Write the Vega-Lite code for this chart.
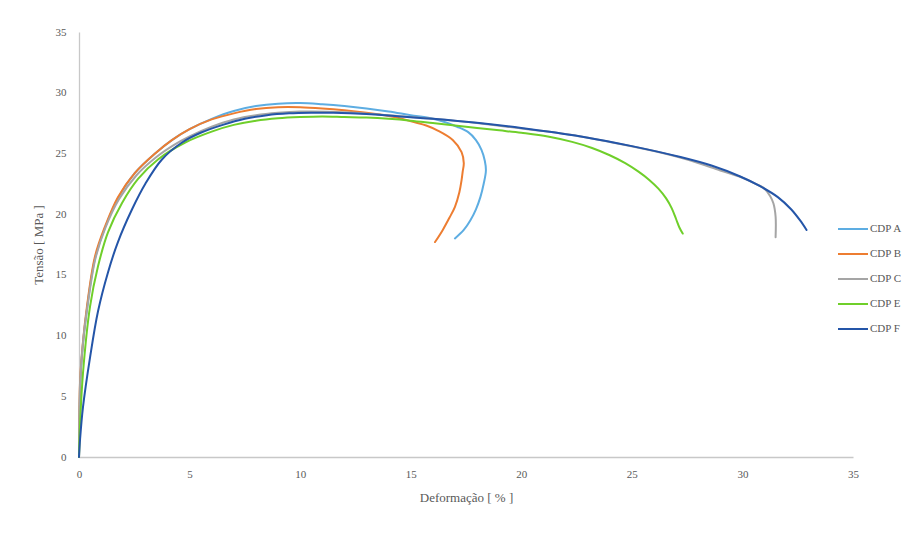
{
  "$schema": "https://vega.github.io/schema/vega-lite/v6.json",
  "width": 774,
  "height": 425,
  "autosize": {"type": "none"},
  "padding": {"left": 79, "top": 32, "right": 62, "bottom": 82},
  "background": "white",
  "config": {
    "view": {"stroke": null},
    "font": "Liberation Serif"
  },
  "datasets": {
    "pts": [
      {"s":"CDP A","i":0,"x":0,"y":0},{"s":"CDP A","i":1,"x":0.03,"y":4},{"s":"CDP A","i":2,"x":0.12,"y":8},{"s":"CDP A","i":3,"x":0.36,"y":12.2},{"s":"CDP A","i":4,"x":0.72,"y":16.3},{"s":"CDP A","i":5,"x":1.18,"y":18.9},{"s":"CDP A","i":6,"x":1.76,"y":21.3},{"s":"CDP A","i":7,"x":2.53,"y":23.4},{"s":"CDP A","i":8,"x":3.44,"y":25.0},{"s":"CDP A","i":9,"x":4.2,"y":26.1},{"s":"CDP A","i":10,"x":5,"y":27.0},{"s":"CDP A","i":11,"x":6,"y":27.85},{"s":"CDP A","i":12,"x":7,"y":28.5},{"s":"CDP A","i":13,"x":8,"y":28.9},{"s":"CDP A","i":14,"x":9,"y":29.1},{"s":"CDP A","i":15,"x":10,"y":29.15},{"s":"CDP A","i":16,"x":11,"y":29.05},{"s":"CDP A","i":17,"x":12,"y":28.9},{"s":"CDP A","i":18,"x":13,"y":28.7},{"s":"CDP A","i":19,"x":14,"y":28.45},{"s":"CDP A","i":20,"x":15,"y":28.15},{"s":"CDP A","i":21,"x":15.9,"y":27.9},{"s":"CDP A","i":22,"x":16.6,"y":27.55},{"s":"CDP A","i":23,"x":17.1,"y":27.2},{"s":"CDP A","i":24,"x":17.6,"y":26.75},{"s":"CDP A","i":25,"x":17.95,"y":26.1},{"s":"CDP A","i":26,"x":18.2,"y":25.3},{"s":"CDP A","i":27,"x":18.35,"y":24.4},{"s":"CDP A","i":28,"x":18.4,"y":23.6},{"s":"CDP A","i":29,"x":18.3,"y":22.5},{"s":"CDP A","i":30,"x":18.15,"y":21.4},{"s":"CDP A","i":31,"x":17.95,"y":20.4},{"s":"CDP A","i":32,"x":17.7,"y":19.5},{"s":"CDP A","i":33,"x":17.4,"y":18.7},{"s":"CDP A","i":34,"x":17.0,"y":18.0},

      {"s":"CDP B","i":0,"x":0,"y":0},{"s":"CDP B","i":1,"x":0.02,"y":4},{"s":"CDP B","i":2,"x":0.05,"y":6.3},{"s":"CDP B","i":3,"x":0.18,"y":9.5},{"s":"CDP B","i":4,"x":0.36,"y":12.4},{"s":"CDP B","i":5,"x":0.72,"y":16.5},{"s":"CDP B","i":6,"x":1.18,"y":19.0},{"s":"CDP B","i":7,"x":1.76,"y":21.4},{"s":"CDP B","i":8,"x":2.53,"y":23.4},{"s":"CDP B","i":9,"x":3.44,"y":25.0},{"s":"CDP B","i":10,"x":4.2,"y":26.1},{"s":"CDP B","i":11,"x":5,"y":27.0},{"s":"CDP B","i":12,"x":6,"y":27.8},{"s":"CDP B","i":13,"x":7,"y":28.3},{"s":"CDP B","i":14,"x":8,"y":28.65},{"s":"CDP B","i":15,"x":9,"y":28.8},{"s":"CDP B","i":16,"x":10,"y":28.8},{"s":"CDP B","i":17,"x":11,"y":28.7},{"s":"CDP B","i":18,"x":12,"y":28.55},{"s":"CDP B","i":19,"x":13,"y":28.35},{"s":"CDP B","i":20,"x":13.6,"y":28.2},{"s":"CDP B","i":21,"x":14.5,"y":27.9},{"s":"CDP B","i":22,"x":15.1,"y":27.6},{"s":"CDP B","i":23,"x":15.7,"y":27.3},{"s":"CDP B","i":24,"x":16.2,"y":26.9},{"s":"CDP B","i":25,"x":16.9,"y":26.1},{"s":"CDP B","i":26,"x":17.3,"y":25.1},{"s":"CDP B","i":27,"x":17.4,"y":24.2},{"s":"CDP B","i":28,"x":17.35,"y":23.5},{"s":"CDP B","i":29,"x":17.3,"y":22.8},{"s":"CDP B","i":30,"x":17.2,"y":21.8},{"s":"CDP B","i":31,"x":17.0,"y":20.6},{"s":"CDP B","i":32,"x":16.75,"y":19.7},{"s":"CDP B","i":33,"x":16.45,"y":18.7},{"s":"CDP B","i":34,"x":16.1,"y":17.7},

      {"s":"CDP C","i":0,"x":0,"y":0},{"s":"CDP C","i":1,"x":0.02,"y":4},{"s":"CDP C","i":2,"x":0.06,"y":6.5},{"s":"CDP C","i":3,"x":0.2,"y":9.8},{"s":"CDP C","i":4,"x":0.4,"y":12.6},{"s":"CDP C","i":5,"x":0.75,"y":16.4},{"s":"CDP C","i":6,"x":1.2,"y":18.9},{"s":"CDP C","i":7,"x":1.8,"y":21.2},{"s":"CDP C","i":8,"x":2.6,"y":23.2},{"s":"CDP C","i":9,"x":3.5,"y":24.7},{"s":"CDP C","i":10,"x":4.3,"y":25.7},{"s":"CDP C","i":11,"x":5,"y":26.4},{"s":"CDP C","i":12,"x":6,"y":27.2},{"s":"CDP C","i":13,"x":7,"y":27.8},{"s":"CDP C","i":14,"x":8,"y":28.15},{"s":"CDP C","i":15,"x":9,"y":28.35},{"s":"CDP C","i":16,"x":10,"y":28.45},{"s":"CDP C","i":17,"x":12,"y":28.4},{"s":"CDP C","i":18,"x":14,"y":28.15},{"s":"CDP C","i":19,"x":16,"y":27.85},{"s":"CDP C","i":20,"x":18,"y":27.5},{"s":"CDP C","i":21,"x":20,"y":27.05},{"s":"CDP C","i":22,"x":22,"y":26.6},{"s":"CDP C","i":23,"x":24,"y":25.95},{"s":"CDP C","i":24,"x":26,"y":25.2},{"s":"CDP C","i":25,"x":27.5,"y":24.5},{"s":"CDP C","i":26,"x":29,"y":23.6},{"s":"CDP C","i":27,"x":30.0,"y":23.0},{"s":"CDP C","i":28,"x":30.6,"y":22.5},{"s":"CDP C","i":29,"x":31.0,"y":22.1},{"s":"CDP C","i":30,"x":31.25,"y":21.5},{"s":"CDP C","i":31,"x":31.4,"y":20.9},{"s":"CDP C","i":32,"x":31.5,"y":19.8},{"s":"CDP C","i":33,"x":31.5,"y":18.1},

      {"s":"CDP E","i":0,"x":0,"y":0},{"s":"CDP E","i":1,"x":0.05,"y":2.8},{"s":"CDP E","i":2,"x":0.18,"y":6.9},{"s":"CDP E","i":3,"x":0.5,"y":12.4},{"s":"CDP E","i":4,"x":0.86,"y":15.7},{"s":"CDP E","i":5,"x":1.31,"y":18.5},{"s":"CDP E","i":6,"x":1.94,"y":20.9},{"s":"CDP E","i":7,"x":2.67,"y":22.9},{"s":"CDP E","i":8,"x":3.57,"y":24.5},{"s":"CDP E","i":9,"x":4.8,"y":25.9},{"s":"CDP E","i":10,"x":6,"y":26.8},{"s":"CDP E","i":11,"x":7,"y":27.35},{"s":"CDP E","i":12,"x":8,"y":27.7},{"s":"CDP E","i":13,"x":9,"y":27.9},{"s":"CDP E","i":14,"x":10,"y":28.0},{"s":"CDP E","i":15,"x":11,"y":28.05},{"s":"CDP E","i":16,"x":12,"y":28.0},{"s":"CDP E","i":17,"x":13,"y":27.95},{"s":"CDP E","i":18,"x":14,"y":27.85},{"s":"CDP E","i":19,"x":15,"y":27.7},{"s":"CDP E","i":20,"x":16,"y":27.5},{"s":"CDP E","i":21,"x":17,"y":27.3},{"s":"CDP E","i":22,"x":18,"y":27.1},{"s":"CDP E","i":23,"x":19,"y":26.9},{"s":"CDP E","i":24,"x":20,"y":26.7},{"s":"CDP E","i":25,"x":21.2,"y":26.4},{"s":"CDP E","i":26,"x":22.3,"y":25.95},{"s":"CDP E","i":27,"x":23.2,"y":25.45},{"s":"CDP E","i":28,"x":24.0,"y":24.85},{"s":"CDP E","i":29,"x":24.7,"y":24.2},{"s":"CDP E","i":30,"x":25.3,"y":23.5},{"s":"CDP E","i":31,"x":25.8,"y":22.8},{"s":"CDP E","i":32,"x":26.2,"y":22.1},{"s":"CDP E","i":33,"x":26.55,"y":21.3},{"s":"CDP E","i":34,"x":26.8,"y":20.5},{"s":"CDP E","i":35,"x":27.0,"y":19.6},{"s":"CDP E","i":36,"x":27.15,"y":18.9},{"s":"CDP E","i":37,"x":27.3,"y":18.4},

      {"s":"CDP F","i":0,"x":0,"y":0},{"s":"CDP F","i":1,"x":0.05,"y":1.5},{"s":"CDP F","i":2,"x":0.18,"y":4.1},{"s":"CDP F","i":3,"x":0.5,"y":8.2},{"s":"CDP F","i":4,"x":0.86,"y":12.0},{"s":"CDP F","i":5,"x":1.31,"y":15.2},{"s":"CDP F","i":6,"x":1.76,"y":17.7},{"s":"CDP F","i":7,"x":2.4,"y":20.4},{"s":"CDP F","i":8,"x":3.0,"y":22.5},{"s":"CDP F","i":9,"x":3.75,"y":24.5},{"s":"CDP F","i":10,"x":4.66,"y":25.9},{"s":"CDP F","i":11,"x":5.5,"y":26.7},{"s":"CDP F","i":12,"x":6.5,"y":27.35},{"s":"CDP F","i":13,"x":7.5,"y":27.85},{"s":"CDP F","i":14,"x":8.5,"y":28.15},{"s":"CDP F","i":15,"x":9.5,"y":28.3},{"s":"CDP F","i":16,"x":10.5,"y":28.35},{"s":"CDP F","i":17,"x":11.5,"y":28.35},{"s":"CDP F","i":18,"x":13,"y":28.25},{"s":"CDP F","i":19,"x":14.5,"y":28.05},{"s":"CDP F","i":20,"x":16,"y":27.85},{"s":"CDP F","i":21,"x":18.1,"y":27.5},{"s":"CDP F","i":22,"x":20,"y":27.1},{"s":"CDP F","i":23,"x":22.7,"y":26.4},{"s":"CDP F","i":24,"x":25,"y":25.6},{"s":"CDP F","i":25,"x":27.2,"y":24.7},{"s":"CDP F","i":26,"x":28.6,"y":24.0},{"s":"CDP F","i":27,"x":29.9,"y":23.1},{"s":"CDP F","i":28,"x":30.8,"y":22.3},{"s":"CDP F","i":29,"x":31.6,"y":21.4},{"s":"CDP F","i":30,"x":32.2,"y":20.4},{"s":"CDP F","i":31,"x":32.6,"y":19.5},{"s":"CDP F","i":32,"x":32.9,"y":18.7}
    ]
  },
  "data": {"name": "pts"},
  "mark": {"type": "line", "strokeWidth": 2, "strokeCap": "round", "strokeJoin": "round", "interpolate": "catmull-rom"},
  "encoding": {
    "x": {
      "field": "x", "type": "quantitative",
      "scale": {"domain": [0, 35], "nice": false, "zero": true},
      "axis": {
        "title": "Deformação [ % ]",
        "values": [0, 5, 10, 15, 20, 25, 30, 35],
        "grid": false, "ticks": false, "labelFlush": false,
        "domainColor": "#c8c8c8", "domainWidth": 1.3,
        "labelFont": "Liberation Serif", "labelFontSize": 11, "labelColor": "#595959",
        "labelPadding": 11,
        "titleFont": "Liberation Serif", "titleFontSize": 13, "titleFontWeight": "normal", "titleColor": "#595959",
        "titlePadding": 12
      }
    },
    "y": {
      "field": "y", "type": "quantitative",
      "scale": {"domain": [0, 35], "nice": false},
      "axis": {
        "title": "Tensão [ MPa ]",
        "values": [0, 5, 10, 15, 20, 25, 30, 35],
        "grid": false, "ticks": false, "labelFlush": false,
        "domainColor": "#c8c8c8", "domainWidth": 1.3,
        "labelFont": "Liberation Serif", "labelFontSize": 11, "labelColor": "#595959",
        "labelPadding": 13,
        "titleFont": "Liberation Serif", "titleFontSize": 13, "titleFontWeight": "normal", "titleColor": "#595959",
        "titlePadding": 10
      }
    },
    "color": {
      "field": "s", "type": "nominal",
      "scale": {
        "domain": ["CDP A", "CDP B", "CDP C", "CDP E", "CDP F"],
        "range": ["#5DADE2", "#ED7D31", "#A5A5A5", "#6FCF2A", "#2455A8"]
      },
      "legend": {
        "title": null,
        "orient": "none",
        "legendX": 758,
        "legendY": 181,
        "symbolType": "stroke",
        "symbolSize": 900,
        "symbolStrokeWidth": 2,
        "rowPadding": 4,
        "labelOffset": 1,
        "labelFont": "Liberation Serif", "labelFontSize": 11, "labelColor": "#595959"
      }
    },
    "order": {"field": "i", "type": "quantitative"}
  }
}
